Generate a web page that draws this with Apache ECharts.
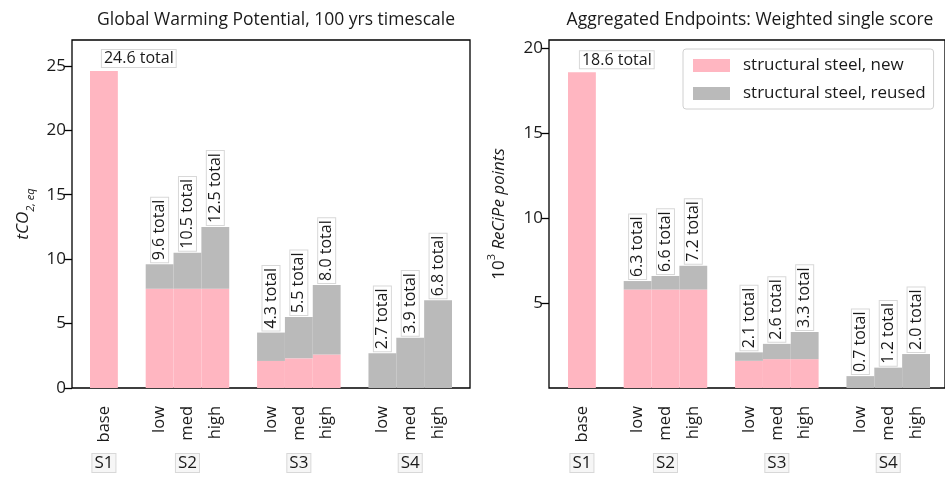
<!DOCTYPE html>
<html>
<head>
<meta charset="utf-8">
<script src="https://cdn.jsdelivr.net/npm/echarts@6/dist/echarts.min.js"></script>
<style>
  html, body { margin: 0; padding: 0; background: #fff; }
  #chart { width: 945px; height: 479px; }
</style>
</head>
<body>
<div id="chart"></div>
<script>
// scenarios and their variants
const groups = ['S1', 'S2', 'S3', 'S4'];
const levels = [['base'], ['low', 'med', 'high'], ['low', 'med', 'high'], ['low', 'med', 'high']];

// GWP, tCO2eq
const gwpTotal = [24.6, 9.6, 10.5, 12.5, 4.3, 5.5, 8.0, 2.7, 3.9, 6.8];
const gwpNew = [24.6, 7.7, 7.7, 7.7, 2.1, 2.3, 2.6, 0, 0, 0];

// ReCiPe single score, 10^3 points
const recipeTotal = [18.6, 6.3, 6.6, 7.2, 2.1, 2.6, 3.3, 0.7, 1.2, 2.0];
const recipeNew = [18.6, 5.8, 5.8, 5.8, 1.6, 1.7, 1.7, 0, 0, 0];

const NEW = 'structural steel, new';
const REUSED = 'structural steel, reused';
const pink = '#ffb6c1';
const grey = '#bababa';
const font = 'Open Sans';
const ink = '#1a1a1a';

// category slots, one empty slot between scenarios
let slots = [], slotItem = [], groupSlot = {}, n = 0;
levels.forEach((lv, g) => {
  groupSlot[Math.floor(slots.length + (lv.length - 1) / 2)] = groups[g];
  lv.forEach(l => { slots.push(l); slotItem.push(n++); });
  if (g < levels.length - 1) { slots.push(''); slotItem.push(-1); }
});

let chart = echarts.init(document.getElementById('chart'));

function barSeries(k, totals, news) {
  let lab = {
    show: true,
    position: 'top',
    rotate: 90,
    align: 'left',
    verticalAlign: 'middle',
    distance: 2,
    fontFamily: font,
    fontSize: 16,
    color: ink,
    backgroundColor: '#fff',
    borderColor: '#d8d8d8',
    borderWidth: 1,
    padding: [1, 2, 0, 2],
    formatter: p => totals[slotItem[p.dataIndex]].toFixed(1) + ' total'
  };
  let common = { type: 'bar', stack: 's' + k, xAxisIndex: k * 3, yAxisIndex: k * 2 + 1, barWidth: '100%' };
  return [Object.assign({}, common, {
    name: NEW,
    itemStyle: { color: pink },
    data: slotItem.map(i => i < 0 ? '-' : news[i])
  }), Object.assign({}, common, {
    name: REUSED,
    itemStyle: { color: grey },
    label: lab,
    data: slotItem.map(i => {
      if (i < 0) return '-';
      let d = { value: +(totals[i] - news[i]).toFixed(2) };
      if (i === 0) d.label = { rotate: 0, align: 'left', verticalAlign: 'bottom', offset: [-2, -2] };
      return d;
    })
  })];
}

function xAxes(k) {
  let bars = k * 2 + 1, frame = k * 2;
  return [{
    type: 'category',
    gridIndex: bars,
    data: slots,
    axisLine: { show: false },
    axisTick: {
      alignWithLabel: true, length: 8,
      interval: (i, v) => v !== '',
      lineStyle: { color: '#000', width: 1.3 }
    },
    axisLabel: {
      interval: 0, rotate: 90, margin: 18,
      fontFamily: font, fontSize: 16.5, color: ink
    }
  }, {
    type: 'category',
    gridIndex: bars,
    data: slots,
    position: 'bottom',
    offset: 58,
    axisLine: { show: false },
    axisTick: { show: false },
    axisLabel: {
      interval: 0, margin: 8,
      formatter: (v, i) => groupSlot[i] ? '{b|' + groupSlot[i] + '}' : '',
      rich: {
        b: {
          fontFamily: font, fontSize: 17, color: ink,
          backgroundColor: '#f6f6f6',
          borderColor: '#d8d8d8',
          borderWidth: 1,
          padding: [1, 2, 0, 2]
        }
      }
    }
  }, {
    type: 'value',
    gridIndex: frame,
    show: false
  }];
}

function yAxes(k, max, ticks, name, rich, gap) {
  return [{
    type: 'value',
    gridIndex: k * 2,
    min: 0,
    max: max,
    name: name,
    nameLocation: 'middle',
    nameRotate: 90,
    nameGap: gap,
    nameTextStyle: { fontFamily: font, color: ink, rich: rich },
    axisLine: { show: false },
    axisTick: { show: true, customValues: ticks, length: 8, lineStyle: { color: '#000', width: 1.3 } },
    axisLabel: { customValues: ticks, margin: 6, fontFamily: font, fontSize: 17, color: ink },
    splitLine: { show: false }
  }, {
    type: 'value',
    gridIndex: k * 2 + 1,
    min: 0,
    max: max,
    show: false,
    splitLine: { show: false }
  }];
}

let option = {
  animation: false,
  title: [{
    text: 'Global Warming Potential, 100 yrs timescale',
    left: 271, top: 6, textAlign: 'center',
    textStyle: { fontFamily: font, fontSize: 17.5, fontWeight: 'normal', color: ink }
  }, {
    text: 'Aggregated Endpoints: Weighted single score',
    left: 745, top: 6, textAlign: 'center',
    textStyle: { fontFamily: font, fontSize: 17.5, fontWeight: 'normal', color: ink }
  }],
  legend: {
    data: [NEW, REUSED],
    orient: 'vertical',
    left: 683,
    top: 49,
    icon: 'rect',
    itemWidth: 37,
    itemHeight: 13,
    itemGap: 11,
    padding: [8, 8, 7, 10],
    backgroundColor: '#fff',
    borderColor: '#d0d0d0',
    borderWidth: 1,
    borderRadius: 3,
    textStyle: { fontFamily: font, fontSize: 17, color: ink, padding: [0, 0, 0, 8] }
  },
  grid: [
    { left: 72, top: 40, width: 398, height: 348, show: true, borderColor: '#000', borderWidth: 1.3 },
    { left: 90, top: 40, width: 362, height: 348 },
    { left: 549, top: 40, width: 398, height: 348, show: true, borderColor: '#000', borderWidth: 1.3 },
    { left: 568, top: 40, width: 362, height: 348 }
  ],
  xAxis: xAxes(0).concat(xAxes(1)),
  yAxis: yAxes(0, 27, [0, 5, 10, 15, 20, 25], '{i|tCO}{s|2, eq}', {
    i: { fontStyle: 'italic', fontSize: 17, lineHeight: 26, verticalAlign: 'middle', fontFamily: font },
    s: { fontStyle: 'italic', fontSize: 11, lineHeight: 13, verticalAlign: 'bottom', fontFamily: font }
  }, 36).concat(yAxes(1, 20.5, [5, 10, 15, 20], '{n|10}{p|3}{i| ReCiPe points}', {
    n: { fontSize: 17, lineHeight: 26, verticalAlign: 'middle', fontFamily: font },
    p: { fontSize: 11, lineHeight: 13, verticalAlign: 'top', fontFamily: font },
    i: { fontStyle: 'italic', fontSize: 17, lineHeight: 26, verticalAlign: 'middle', fontFamily: font }
  }, 37)),
  series: barSeries(0, gwpTotal, gwpNew).concat(barSeries(1, recipeTotal, recipeNew))
};

chart.setOption(option);
</script>
</body>
</html>
